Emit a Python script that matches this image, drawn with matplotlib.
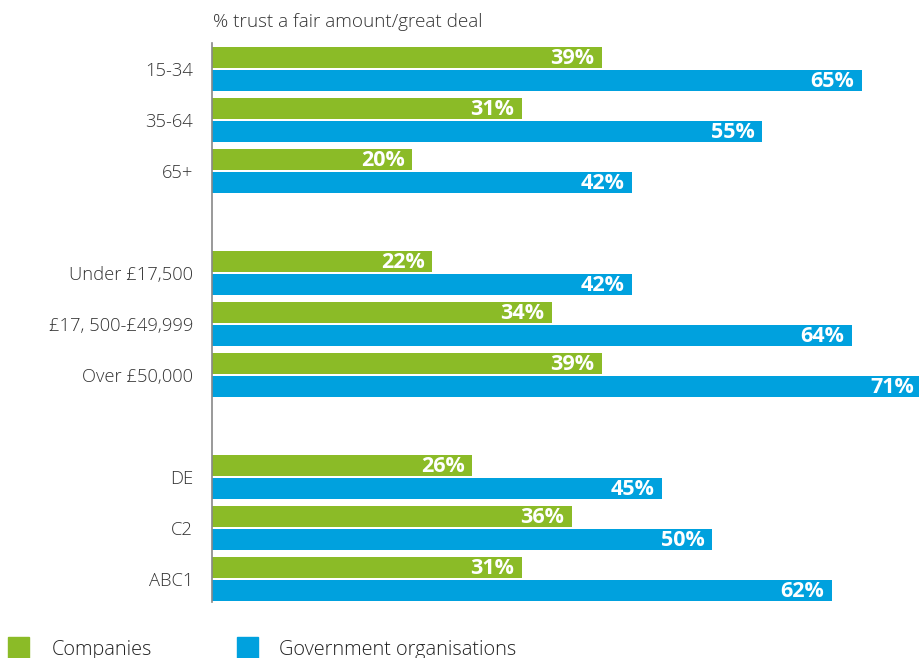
import matplotlib
matplotlib.use('Agg')
import matplotlib.pyplot as plt
from matplotlib.patches import Rectangle
import numpy as np

plt.rcParams['font.family'] = ['Open Sans', 'DejaVu Sans']

# data
categories = ['15-34', '35-64', '65+',
              'Under £17,500', '£17, 500-£49,999', 'Over £50,000',
              'DE', 'C2', 'ABC1']
positions = [0, 1, 2, 4, 5, 6, 8, 9, 10]
companies = [39, 31, 20, 22, 34, 39, 26, 36, 31]
government = [65, 55, 42, 42, 64, 71, 45, 50, 62]
series_names = ['Companies', 'Government organisations']

green = '#8bbb27'
blue = '#00a1de'

W, H = 920, 658
fig = plt.figure(figsize=(W / 100, H / 100), dpi=100)

# axes: left edge at the vertical axis line, runs off the right edge
ax_left, ax_top, ax_bot = 212.5, 43, 602
ax = fig.add_axes([ax_left / W, 1 - ax_bot / H, 1 - ax_left / W, (ax_bot - ax_top) / H])

pitch = 51.0
y0 = 69.0
ax.set_xlim(0, (W - ax_left) / 10.0)
ax.set_ylim((ax_bot - y0) / pitch, (ax_top - y0) / pitch)

pos = np.array(positions, dtype=float)
h = 21 / pitch
off = 11.5 / pitch
ax.barh(pos - off, companies, height=h, color=green, clip_on=True)
ax.barh(pos + off, government, height=h, color=blue, clip_on=True)

for p, c, g in zip(pos, companies, government):
    ax.text(c - 0.8, p - off + 0.01, f'{c}%', ha='right', va='center', color='white',
            fontsize=15.5, fontweight='bold')
    ax.text(g - 0.8, p + off + 0.01, f'{g}%', ha='right', va='center', color='white',
            fontsize=15.5, fontweight='bold')

ax.set_yticks(pos)
ax.set_yticklabels(categories, fontsize=13.2, color='#333333', fontweight='light')
ax.tick_params(axis='y', length=0, pad=14)
ax.set_xticks([])
for s in ['top', 'right', 'bottom']:
    ax.spines[s].set_visible(False)
ax.spines['left'].set_color('#888888')
ax.spines['left'].set_linewidth(1.2)

fig.text(213 / W, 1 - 22 / H, '% trust a fair amount/great deal', ha='left', va='center',
         fontsize=13.6, color='#333333', fontweight='light')

# legend
for x_sq, x_txt, col, name in [(8, 52, green, series_names[0]), (237, 279, blue, series_names[1])]:
    fig.patches.append(Rectangle((x_sq / W, 1 - 658 / H), 21 / W, 21 / H,
                                 transform=fig.transFigure, color=col))
    fig.text(x_txt / W, 1 - 650 / H, name, ha='left', va='center', fontsize=14.3,
             color='#222222', fontweight='light')

fig.savefig('out.png', dpi=100)
